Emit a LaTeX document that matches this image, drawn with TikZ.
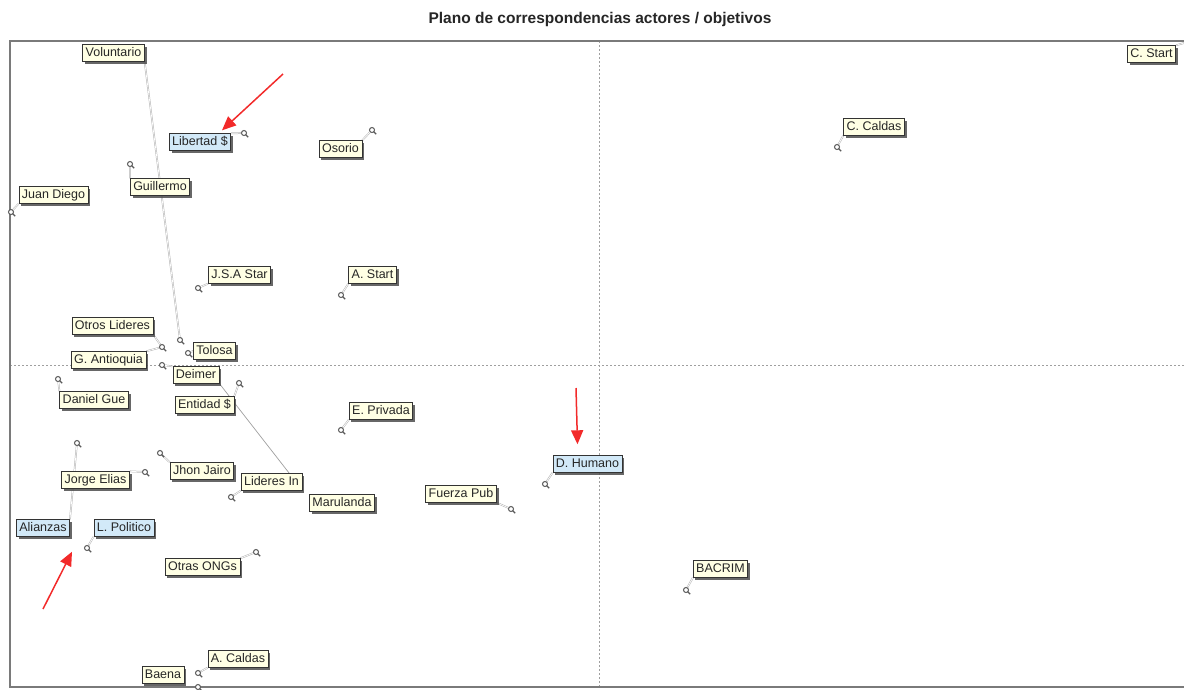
\documentclass[tikz,border=0pt]{standalone}
\usepackage{fontspec}
\setmainfont{Liberation Sans}
\usetikzlibrary{arrows.meta,shadows}
\definecolor{cream}{HTML}{FFFFE4}
\definecolor{skyfill}{HTML}{D2E9F8}
\definecolor{framegray}{HTML}{7A7A7A}
\definecolor{arrowred}{HTML}{F22A2A}
\pgfdeclarelayer{bg}
\pgfsetlayers{bg,main}
% point marker: small ring with a short tail
\newcommand\mk[3]{%
  \draw[mktail] (#2,#3) -- ++(4.2pt,-4.2pt);
  \node[dotmk] (#1) at (#2,#3) {};}
\begin{document}
\begin{tikzpicture}[x=1pt,y=-1pt,
  lbl/.style={draw=black!80, line width=0.7pt, fill=cream,
    font=\fontsize{12.5}{14}\selectfont, text=black!85,
    inner xsep=3pt, inner ysep=2.6pt, text height=9pt, text depth=2.5pt,
    drop shadow={shadow xshift=2.3pt, shadow yshift=-2.3pt, fill=black!70, opacity=0.85}},
  lblb/.style={lbl, fill=skyfill},
  dotmk/.style={circle, draw=black!65, fill=white, line width=1pt,
    minimum size=5pt, inner sep=0pt},
  mktail/.style={draw=black!65, line width=1.1pt},
  leader/.style={draw=gray!60, line width=0.5pt, double=white, double distance=0.7pt},
  thinlink/.style={draw=gray!75, line width=0.7pt},
  axisline/.style={draw=gray!75, dash pattern=on 2pt off 2pt, line width=0.6pt},
  redarrow/.style={draw=arrowred, line width=1.5pt, -{Triangle[length=14pt,width=12pt]}}
]
\useasboundingbox (0,0) rectangle (1184,689);

% title
\node[font=\bfseries\fontsize{15.5}{17}\selectfont, text=black!85] (title) at (600,19)
  {Plano de correspondencias actores / objetivos};

% frame and axes
\begin{pgfonlayer}{bg}
  \coordinate (axL) at (10,365);
  \coordinate (axR) at (1184,365);
  \coordinate (axT) at (599,41);
  \coordinate (axB) at (599,687);
  \draw[axisline] (axL) -- (axR);
  \draw[axisline] (axT) -- (axB);
  \draw[framegray, line width=1.5pt] (1184,41) -| (10,687) -- (1184,687);
\end{pgfonlayer}

% points
\mk{m-vol}{180}{340}
\mk{m-lib}{244}{133}
\mk{m-oso}{372}{130}
\mk{m-gui}{130}{164}
\mk{m-jd}{11}{212}
\mk{m-jsa}{198}{288}
\mk{m-ast}{341}{295}
\mk{m-otr}{162}{347}
\mk{m-tol}{188}{353}
\mk{m-dei}{162}{365}
\mk{m-ent}{239}{383}
\mk{m-dan}{58}{379}
\mk{m-epr}{341}{430}
\mk{m-jor}{145}{472}
\mk{m-ali}{77}{443}
\mk{m-jho}{160}{453}
\mk{m-lin}{231}{497}
\mk{m-lpo}{87}{548}
\mk{m-ong}{256}{552}
\mk{m-aca}{198}{673}
\mk{m-bae}{198}{687}
\mk{m-fue}{511}{509}
\mk{m-dhu}{545}{484}
\mk{m-bac}{686}{590}
\mk{m-cca}{837}{147}
\coordinate (m-cst) at (1184,43);

% labels
\node[lbl]  (vol) at (113.5,53)  {Voluntario};
\node[lblb] (lib) at (200,142)   {Libertad \$};
\node[lbl]  (oso) at (340.5,149) {Osorio};
\node[lbl]  (gui) at (160,187)   {Guillermo};
\node[lbl]  (jd)  at (53.5,195)  {Juan Diego};
\node[lbl]  (jsa) at (239.5,275) {J.S.A Star};
\node[lbl]  (ast) at (372.5,275) {A. Start};
\node[lbl]  (otr) at (112.5,326) {Otros Lideres};
\node[lbl]  (tol) at (214.5,351) {Tolosa};
\node[lbl]  (gan) at (108.5,360) {G. Antioquia};
\node[lbl]  (dei) at (196,375)   {Deimer};
\node[lbl]  (ent) at (204.5,405) {Entidad \$};
\node[lbl]  (dan) at (94,400)    {Daniel Gue};
\node[lbl]  (epr) at (381,411)   {E. Privada};
\node[lbl]  (jor) at (95.5,480)  {Jorge Elias};
\node[lbl]  (jho) at (202,471)   {Jhon Jairo};
\node[lbl]  (lin) at (271.5,482) {Lideres In};
\node[lbl]  (mar) at (342,503)   {Marulanda};
\node[lbl]  (fue) at (461,494)   {Fuerza Pub};
\node[lblb] (dhu) at (587.5,464) {D. Humano};
\node[lblb] (ali) at (43,528)    {Alianzas};
\node[lblb] (lpo) at (124,528)   {L. Politico};
\node[lbl]  (ong) at (202.5,567) {Otras ONGs};
\node[lbl]  (bac) at (720.5,569) {BACRIM};
\node[lbl]  (aca) at (238,659)   {A. Caldas};
\node[lbl]  (bae) at (163,675)   {Baena};
\node[lbl]  (cca) at (874,127)   {C. Caldas};
\node[lbl]  (cst) at (1151.5,54) {C. Start};

% leader lines from points to labels
\begin{pgfonlayer}{bg}
  \draw[leader] (m-vol) -- (vol.south east);
  \draw[leader] (m-lib) -- (lib.north east);
  \draw[leader] (m-oso) -- (oso.north east);
  \draw[leader] (m-gui) -- (gui.north west);
  \draw[leader] (m-jd)  -- (jd.south west);
  \draw[leader] (m-jsa) -- (jsa.south west);
  \draw[leader] (m-ast) -- (ast.south west);
  \draw[leader] (m-otr) -- (otr.south east);
  \draw[leader] (m-otr) -- (gan.north east);
  \draw[leader] (m-tol) -- (tol.west);
  \draw[leader] (m-dei) -- (dei.north west);
  \draw[leader] (m-ent) -- (ent.north east);
  \draw[leader] (m-dan) -- (dan.north west);
  \draw[leader] (m-epr) -- (epr.south west);
  \draw[leader] (m-jor) -- (jor.north east);
  \draw[leader] (m-ali) -- (ali.north east);
  \draw[leader] (m-jho) -- (jho.north west);
  \draw[leader] (m-lin) -- (lin.south west);
  \draw[leader] (m-lpo) -- (lpo.south west);
  \draw[leader] (m-ong) -- (ong.north east);
  \draw[leader] (m-aca) -- (aca.south west);
  \draw[leader] (m-fue) -- (fue.south east);
  \draw[leader] (m-dhu) -- (dhu.south west);
  \draw[leader] (m-bac) -- (bac.south west);
  \draw[leader] (m-cca) -- (cca.south west);
  \draw[leader] (m-cst) -- (cst.north east);
  \draw[thinlink] (dei.south east) -- ([xshift=-13pt]lin.north east);
\end{pgfonlayer}

% highlight arrows
\coordinate (r1) at (283,74);
\coordinate (r2) at (576,388);
\coordinate (r3) at (43,609);
\draw[redarrow] (r1) -- ([shift={(22pt,3pt)}]lib.north);
\draw[redarrow] (r2) -- ([xshift=-10pt,yshift=11pt]dhu.north);
\draw[redarrow] (r3) -- ([xshift=-52pt,yshift=-15pt]lpo.south);
\end{tikzpicture}
\end{document}
